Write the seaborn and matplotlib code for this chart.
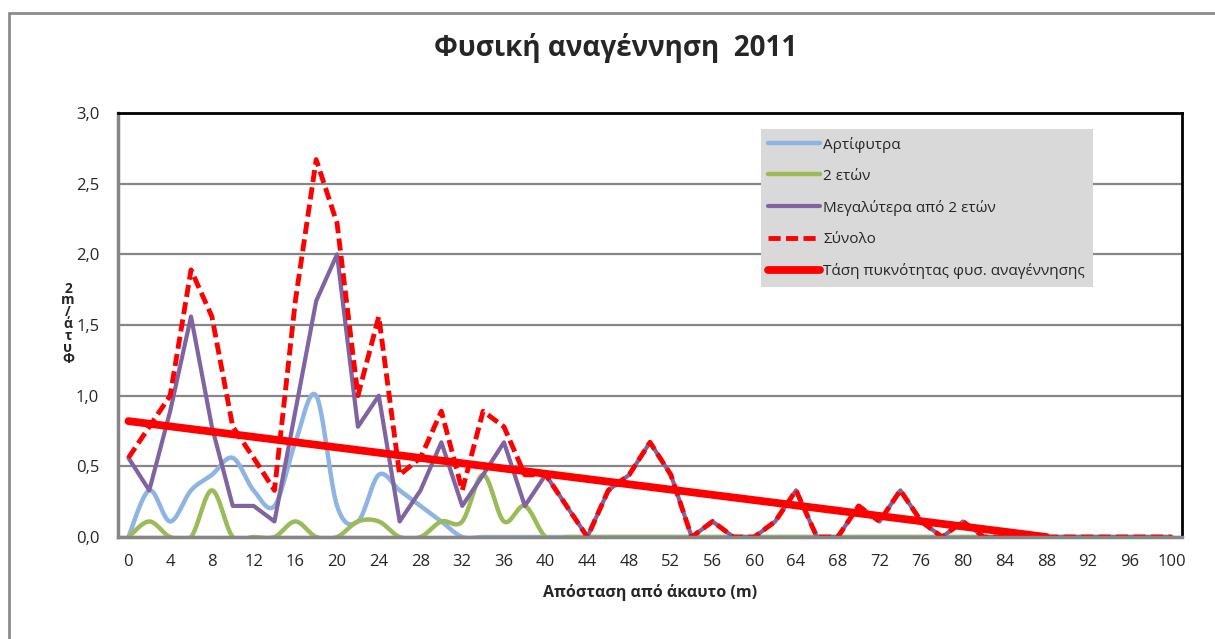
import numpy as np
import matplotlib
matplotlib.use('Agg')
import matplotlib.pyplot as plt
import seaborn as sns
from matplotlib.lines import Line2D
from matplotlib.ticker import FuncFormatter

sns.set_style("white")
plt.rcParams['font.family'] = ['Open Sans', 'DejaVu Sans']

# ------------------------------------------------------------------
# Dedomena (fyta/m2 ana apostasi apo akauto)
# ------------------------------------------------------------------
apostasi = list(range(0, 101, 2))

artifytra = [0.00, 0.33, 0.11, 0.33, 0.44, 0.56, 0.33, 0.22, 0.67, 1.00,
             0.22, 0.11, 0.44, 0.33, 0.22, 0.11, 0.00, 0.00, 0.00, 0.00,
             0.00, 0.00, 0.00, 0.00, 0.00, 0.00, 0.00, 0.00, 0.00, 0.00,
             0.00, 0.00, 0.00, 0.00, 0.00, 0.00, 0.00, 0.00, 0.00, 0.00,
             0.00, 0.00, 0.00, 0.00, 0.00, 0.00, 0.00, 0.00, 0.00, 0.00,
             0.00]

dyo_eton = [0.00, 0.11, 0.00, 0.00, 0.33, 0.00, 0.00, 0.00, 0.11, 0.00,
            0.00, 0.11, 0.11, 0.00, 0.00, 0.11, 0.11, 0.44, 0.11, 0.22,
            0.00, 0.00, 0.00, 0.00, 0.00, 0.00, 0.00, 0.00, 0.00, 0.00,
            0.00, 0.00, 0.00, 0.00, 0.00, 0.00, 0.00, 0.00, 0.00, 0.00,
            0.00, 0.00, 0.00, 0.00, 0.00, 0.00, 0.00, 0.00, 0.00, 0.00,
            0.00]

megalytera = [0.56, 0.33, 0.89, 1.56, 0.78, 0.22, 0.22, 0.11, 0.89, 1.67,
              2.00, 0.78, 1.00, 0.11, 0.33, 0.67, 0.22, 0.44, 0.67, 0.22,
              0.44, 0.22, 0.00, 0.33, 0.44, 0.67, 0.44, 0.00, 0.11, 0.00,
              0.00, 0.11, 0.33, 0.00, 0.00, 0.22, 0.11, 0.33, 0.11, 0.00,
              0.11, 0.00, 0.00, 0.00, 0.00, 0.00, 0.00, 0.00, 0.00, 0.00,
              0.00]

synolo = [0.56, 0.78, 1.00, 1.89, 1.56, 0.78, 0.56, 0.33, 1.67, 2.67,
          2.22, 1.00, 1.56, 0.44, 0.56, 0.89, 0.33, 0.89, 0.78, 0.44,
          0.44, 0.22, 0.00, 0.33, 0.44, 0.67, 0.44, 0.00, 0.11, 0.00,
          0.00, 0.11, 0.33, 0.00, 0.00, 0.22, 0.11, 0.33, 0.11, 0.00,
          0.11, 0.00, 0.00, 0.00, 0.00, 0.00, 0.00, 0.00, 0.00, 0.00,
          0.00]

tasi_x = [0, 88]
tasi_y = [0.82, 0.00]

x_ticks = list(range(0, 101, 4))
y_ticks = [0.0, 0.5, 1.0, 1.5, 2.0, 2.5, 3.0]

titlos = 'Φυσική αναγέννηση  2011'
xlabel = 'Απόσταση από άκαυτο (m)'
ylabel = 'Φυτά/m2'


# kampyli opos to "smoothed line" tou Excel (Bezier / Catmull-Rom)
def smooth(x, y, n=24):
    x = np.asarray(x, float)
    y = np.asarray(y, float)
    t = np.linspace(0, 1, n, endpoint=False)
    sx, sy = [], []
    last = len(x) - 1
    for i in range(last):
        a = max(i - 1, 0)
        d = min(i + 2, last)
        b1x = x[i] + (x[i + 1] - x[a]) / 6
        b1y = y[i] + (y[i + 1] - y[a]) / 6
        b2x = x[i + 1] - (x[d] - x[i]) / 6
        b2y = y[i + 1] - (y[d] - y[i]) / 6
        c = [(1 - t) ** 3, 3 * (1 - t) ** 2 * t, 3 * (1 - t) * t ** 2, t ** 3]
        sx.extend(c[0] * x[i] + c[1] * b1x + c[2] * b2x + c[3] * x[i + 1])
        sy.extend(c[0] * y[i] + c[1] * b1y + c[2] * b2y + c[3] * y[i + 1])
    sx.append(x[-1])
    sy.append(y[-1])
    return np.array(sx), np.array(sy)


fig = plt.figure(figsize=(12.15, 6.39), dpi=100)
ax = fig.add_axes([118 / 1215, 1 - 537 / 639, 1064 / 1215, 424 / 639])

sx, sy = smooth(apostasi, artifytra)
sns.lineplot(x=sx, y=sy, ax=ax, color='#8EB4E3', lw=3.2, sort=False,
             estimator=None, label='Αρτίφυτρα')
sx, sy = smooth(apostasi, dyo_eton)
sns.lineplot(x=sx, y=sy, ax=ax, color='#9BBB59', lw=3.2, sort=False,
             estimator=None, label='2 ετών')
sns.lineplot(x=apostasi, y=megalytera, ax=ax, color='#8064A2', lw=3.0,
             sort=False, estimator=None, label='Μεγαλύτερα από 2 ετών')
sns.lineplot(x=apostasi, y=synolo, ax=ax, color='#FF0000', lw=3.5,
             sort=False, estimator=None, label='Σύνολο')
ax.lines[-1].set_dashes((2.5, 1.1))
sns.lineplot(x=tasi_x, y=tasi_y, ax=ax, color='#FF0000', lw=5.6,
             sort=False, estimator=None,
             label='Τάση πυκνότητας φυσ. αναγέννησης')

ax.set_xlim(-1, 101)
ax.set_ylim(0, 3.0)
ax.set_xticks(x_ticks)
ax.set_yticks(y_ticks)
ax.yaxis.set_major_formatter(FuncFormatter(lambda v, p: f'{v:.1f}'.replace('.', ',')))
ax.tick_params(axis='x', length=0, pad=12, labelsize=12)
ax.tick_params(axis='y', length=5, width=2, color='#868686', pad=8.5, labelsize=12)

ax.set_axisbelow(True)
ax.yaxis.grid(True, color='#868686', lw=1.6)
ax.xaxis.grid(False)

for s in ['left', 'bottom']:
    ax.spines[s].set_color('#868686')
    ax.spines[s].set_linewidth(2.5)
for s in ['top', 'right']:
    ax.spines[s].set_color('black')
    ax.spines[s].set_linewidth(2)

ax.set_xlabel(xlabel, fontsize=11.5, fontweight='bold', va='center')
ax.xaxis.set_label_coords(0.5, -0.13)
ax.set_ylabel('')

# o titlos tou aksona y fainetai "stoivagmenos" sto protypo
fig.text(68 / 1215, 1 - 324 / 639, '\n'.join(reversed(ylabel)), fontsize=10,
         fontweight='bold', ha='center', va='center', linespacing=0.8)

fig.text(616 / 1215, 1 - 48 / 639, titlos, fontsize=20, fontweight='bold',
         ha='center', va='center')

leg = ax.legend(loc='upper left', bbox_to_anchor=(0.604, 0.962), borderaxespad=0,
                frameon=True, facecolor='#D9D9D9', edgecolor='none', fancybox=False,
                framealpha=1, handlelength=3.4, handletextpad=0.2,
                labelspacing=1.05, borderpad=0.5, fontsize=11)

# plaisio tou grafimatos
fig.add_artist(Line2D([8.5 / 1215, 1], [1 - 13 / 639, 1 - 13 / 639],
                      transform=fig.transFigure, color='#8C8C8C', lw=2))
fig.add_artist(Line2D([8.5 / 1215, 8.5 / 1215], [0, 1 - 13 / 639],
                      transform=fig.transFigure, color='#8C8C8C', lw=2))

fig.savefig('out.png', dpi=100)
